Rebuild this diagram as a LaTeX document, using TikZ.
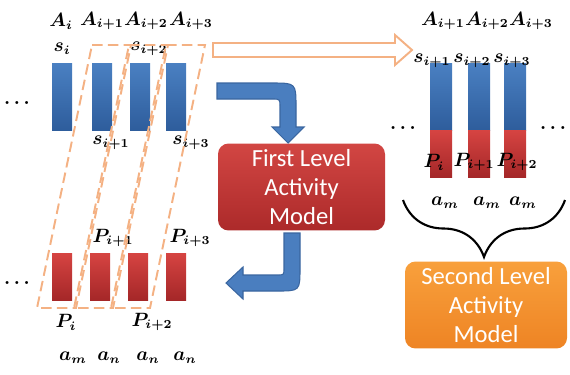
\documentclass[tikz,border=0pt]{standalone}
\usepackage{fontspec}
\usepackage{bm}
\usetikzlibrary{decorations.pathreplacing}
\newfontfamily\boxfont{Carlito}
\definecolor{barblue}{HTML}{4A80C2}
\definecolor{barbluedk}{HTML}{2E5D9C}
\definecolor{barred}{HTML}{D64442}
\definecolor{barreddk}{HTML}{A52728}
\definecolor{winorange}{HTML}{F4B183}
\definecolor{arrblue}{HTML}{4A7EBF}
\definecolor{arrbluedk}{HTML}{3A66A0}
\definecolor{boxred}{HTML}{D24643}
\definecolor{boxreddk}{HTML}{AC2A2A}
\definecolor{boxorange}{HTML}{F8A03C}
\definecolor{boxorangedk}{HTML}{EE8424}

\begin{document}
\begin{tikzpicture}[x=0.2mm, y=-0.2mm,
  blubar/.style={top color=barblue, bottom color=barbluedk},
  redbar/.style={top color=barred, bottom color=barreddk},
  window/.style={draw=winorange, dash pattern=on 6pt off 3pt, line width=1.1pt},
  lbl/.style={font=\fontsize{10.5}{12}\selectfont, inner sep=0pt},
  model/.style={rounded corners=6pt, text=white, align=center,
    font=\boxfont\fontsize{14}{16.5}\selectfont},
  bentarrow/.style={fill=arrblue, draw=arrbluedk, line width=0.6pt},
  brace/.style={decorate, decoration={brace, amplitude=11.4mm}, line width=1.2pt},
]

\useasboundingbox (0,0) rectangle (570,374);

% =============================================
% Left: sensor bars (top) and posture bars (bottom)
% =============================================

% Top bars
\fill[blubar] (52,63) rectangle (72,130);
\fill[blubar] (92,63) rectangle (112,130);
\fill[blubar] (130,63) rectangle (150,130);
\fill[blubar] (166,63) rectangle (186,130);

% Bottom bars
\fill[redbar] (52,253) rectangle (72,300);
\fill[redbar] (90,253) rectangle (110,300);
\fill[redbar] (128,253) rectangle (148,300);
\fill[redbar] (166,253) rectangle (186,300);

\node[lbl] (dotsT) at (17,103) {$\bm{\ldots}$};
\node[lbl] (dotsB) at (17,283) {$\bm{\ldots}$};

% Labels above
\node[lbl] (Ai)  at (61,21)  {$\bm{A_i}$};
\node[lbl] (Ai1) at (102,21) {$\bm{A_{i+1}}$};
\node[lbl] (Ai2) at (146,21) {$\bm{A_{i+2}}$};
\node[lbl] (Ai3) at (191,21) {$\bm{A_{i+3}}$};

\node[lbl] (si)  at (62,49)  {$\bm{s_i}$};
\node[lbl] (si2) at (149,49) {$\bm{s_{i+2}}$};
\node[lbl] (si1) at (111,143) {$\bm{s_{i+1}}$};
\node[lbl] (si3) at (191,143) {$\bm{s_{i+3}}$};

\node[lbl] (Pi1) at (113,238) {$\bm{P_{i+1}}$};
\node[lbl] (Pi3) at (190,238) {$\bm{P_{i+3}}$};
\node[lbl] (Pi)  at (66,322)  {$\bm{P_i}$};
\node[lbl] (Pi2) at (152,322) {$\bm{P_{i+2}}$};

\node[lbl] (am)  at (73,358)  {$\bm{a_m}$};
\node[lbl] (an1) at (109,358) {$\bm{a_n}$};
\node[lbl] (an2) at (148,358) {$\bm{a_n}$};
\node[lbl] (an3) at (185,358) {$\bm{a_n}$};

% Sliding windows
\draw[window] (92,45) -- (131,45) -- (76,308) -- (37,308) -- cycle;
\draw[window] (129,45) -- (168,45) -- (113,308) -- (74,308) -- cycle;
\draw[window] (166,45) -- (205,45) -- (150,308) -- (111,308) -- cycle;

% Hollow arrow to the right
\draw[winorange, line width=1.1pt, fill=white]
  (213,43) -- (395,43) -- (395,35) -- (412,50) -- (395,65) -- (395,57)
  -- (213,57) -- cycle;

% =============================================
% First level model
% =============================================

\node[model, top color=boxred, bottom color=boxreddk,
  minimum width=33.4mm, minimum height=16mm] (first) at (301.5,187)
  {First Level\\Activity\\Model};

% Bent arrow into the model
\filldraw[bentarrow]
  (217,83) -- (272,83) .. controls (296,83) .. (296,107) -- (296,127)
  -- (304,127) -- (288,143) -- (272,127) -- (280,127) -- (280,107)
  .. controls (280,99) .. (272,99) -- (217,99) -- cycle;

% Bent arrow back out
\filldraw[bentarrow]
  (284,233) -- (300,233) -- (300,268) .. controls (300,291) .. (277,291)
  -- (243,291) -- (243,299) -- (226,283) -- (243,267) -- (243,275)
  -- (277,275) .. controls (284,275) .. (284,268) -- cycle;

% =============================================
% Right: stacked bars
% =============================================

\fill[blubar] (430,63) rectangle (452,130);
\fill[blubar] (468,63) rectangle (490,130);
\fill[blubar] (504,63) rectangle (526,130);
\fill[redbar] (430,130) rectangle (452,177);
\fill[redbar] (468,130) rectangle (490,177);
\fill[redbar] (504,130) rectangle (526,177);

\node[lbl] (rA1) at (443,21) {$\bm{A_{i+1}}$};
\node[lbl] (rA2) at (487,21) {$\bm{A_{i+2}}$};
\node[lbl] (rA3) at (531,21) {$\bm{A_{i+3}}$};

\node[lbl] (rs1) at (432,61) {$\bm{s_{i+1}}$};
\node[lbl] (rs2) at (472,61) {$\bm{s_{i+2}}$};
\node[lbl] (rs3) at (512,61) {$\bm{s_{i+3}}$};

\node[lbl] (rP0) at (434,162) {$\bm{P_i}$};
\node[lbl] (rP1) at (474,162) {$\bm{P_{i+1}}$};
\node[lbl] (rP2) at (517,162) {$\bm{P_{i+2}}$};

\node[lbl] (rdotsL) at (403,128) {$\bm{\ldots}$};
\node[lbl] (rdotsR) at (553,128) {$\bm{\ldots}$};

\node[lbl] (ram1) at (445,203) {$\bm{a_m}$};
\node[lbl] (ram2) at (487,203) {$\bm{a_m}$};
\node[lbl] (ram3) at (523,203) {$\bm{a_m}$};

% Brace and second level model
\draw[brace] (565,200) -- (403,200);

\node[model, top color=boxorange, bottom color=boxorangedk,
  minimum width=32.4mm, minimum height=16mm] (second) at (486,305)
  {Second Level\\Activity\\Model};

\end{tikzpicture}
\end{document}
